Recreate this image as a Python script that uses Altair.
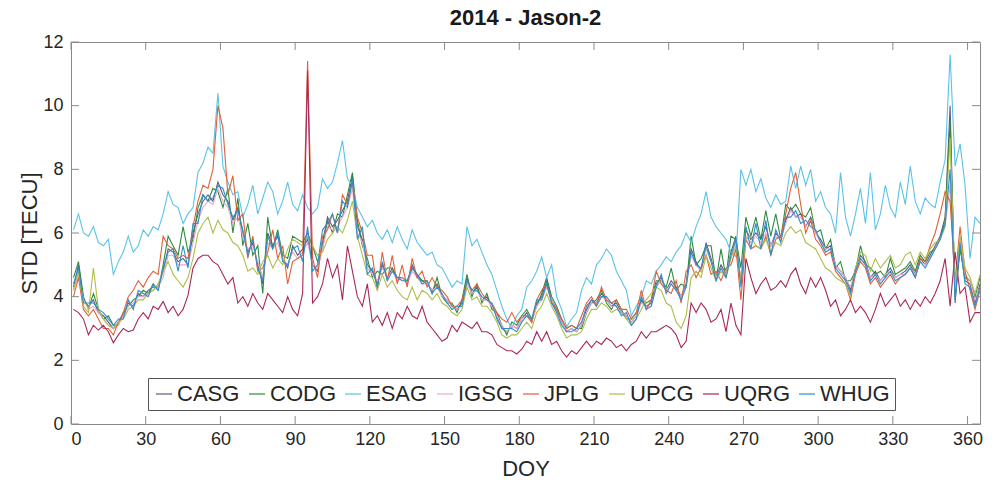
import altair as alt
import pandas as pd

doy = list(range(1, 366, 2))

series_names = ["CASG", "CODG", "ESAG", "IGSG", "JPLG", "UPCG", "UQRG", "WHUG"]
series_colors = ["#5f5a84", "#2e8b3e", "#5bc2e7", "#e8aacb", "#e0603a", "#b0bd4c", "#a8285a", "#2f8fce"]

CASG = [4.3,5.0,3.9,3.7,3.9,3.5,3.4,3.2,3.0,3.2,3.4,3.8,3.7,4.1,4.0,
        4.2,4.3,4.3,4.8,5.5,5.4,5.1,5.2,5.0,6.0,6.6,7.0,7.2,7.0,7.6,
        7.2,7.0,6.4,6.8,6.0,5.4,5.7,5.0,4.4,6.0,5.6,5.9,5.2,4.9,5.6,
        5.3,5.5,5.8,5.0,4.8,5.7,6.5,6.2,6.4,6.7,7.0,7.8,6.2,5.8,5.0,
        4.8,4.4,5.0,4.6,4.9,4.5,4.6,4.4,5.0,4.6,4.5,4.4,4.2,4.4,4.0,
        3.9,3.7,3.6,3.8,4.6,4.1,4.3,3.9,4.0,3.7,3.4,3.0,2.9,3.1,3.0,
        3.3,3.5,3.2,3.8,4.0,4.5,3.9,3.6,3.2,2.9,3.0,2.9,3.1,3.6,3.9,
        3.8,4.1,3.9,3.7,3.8,3.5,3.4,3.2,3.4,3.9,3.7,3.8,4.4,4.6,4.2,
        4.5,4.3,4.0,4.4,5.5,5.1,4.8,5.7,5.2,4.6,5.0,4.7,5.4,5.9,4.4,
        6.1,5.8,6.0,5.8,6.2,5.6,6.0,5.8,6.4,6.8,6.5,6.6,6.2,6.5,6.0,
        5.8,5.5,5.6,5.0,4.8,4.6,4.2,4.9,5.3,5.1,4.6,4.8,4.5,4.7,4.9,
        4.6,4.7,4.8,5.0,4.7,5.2,5.0,5.3,5.6,5.9,6.5,10.0,3.8,5.6,4.5,
        4.4,3.8,4.4]

CODG = [4.6,5.1,4.0,3.6,4.1,3.6,3.3,3.4,3.1,3.1,3.5,3.7,3.9,4.0,4.2,
        4.1,4.4,4.2,5.0,5.9,5.6,5.3,6.2,5.4,5.8,6.8,7.2,7.0,7.4,7.3,
        6.8,7.4,6.0,7.1,5.6,6.3,5.3,5.6,4.1,6.5,5.5,6.1,5.3,5.2,5.9,
        5.8,5.7,6.0,5.6,5.1,5.5,6.4,6.0,6.6,6.5,7.2,7.9,6.4,5.6,5.2,
        4.6,4.8,4.7,4.9,4.9,4.6,4.6,4.5,4.9,4.7,4.5,4.5,4.1,4.6,4.0,
        3.8,3.8,3.5,3.9,4.7,4.0,4.4,3.8,4.1,3.6,3.5,3.1,2.8,3.2,3.1,
        3.4,3.6,3.3,3.7,4.1,4.6,4.0,3.7,3.3,3.0,3.1,3.0,3.0,3.5,3.8,
        3.9,4.2,3.8,3.6,3.9,3.6,3.3,3.3,3.5,3.8,3.8,3.9,4.5,4.5,4.3,
        4.9,4.2,4.4,4.3,5.9,5.0,5.2,5.6,5.6,4.5,5.5,4.6,5.9,5.8,4.9,
        6.5,5.9,6.5,5.8,6.7,5.9,6.6,5.8,6.9,6.7,6.9,6.6,6.5,6.8,6.0,
        6.1,5.5,5.8,4.9,5.1,4.5,4.5,4.8,5.6,5.0,4.9,4.7,4.8,4.6,5.2,
        4.7,4.8,4.9,5.1,4.8,5.3,5.1,5.4,5.5,5.8,6.4,9.5,4.0,5.5,4.6,
        4.5,4.0,4.6]

ESAG = [6.1,6.6,6.0,5.9,6.2,5.7,5.6,5.8,4.7,5.1,5.4,5.9,5.4,5.6,6.1,
        5.9,6.2,6.1,6.6,7.3,6.9,6.8,6.3,6.6,6.8,7.9,8.2,8.7,8.5,10.4,
        8.1,7.6,7.2,7.3,6.5,6.9,7.5,6.6,7.1,7.6,7.3,6.6,7.0,7.6,6.9,
        6.7,7.2,6.8,6.6,6.8,7.7,7.4,7.6,8.2,8.9,7.7,7.5,6.8,6.5,6.2,
        6.4,6.0,5.8,6.1,5.7,6.2,5.8,5.5,6.1,5.7,5.5,5.3,5.4,5.0,4.9,
        4.6,4.3,4.5,4.4,6.2,5.6,5.8,5.4,5.0,4.7,4.2,3.7,3.3,3.0,3.4,
        3.6,4.3,4.5,4.8,5.25,4.6,5.0,4.0,3.6,3.05,3.3,3.5,4.2,4.6,4.4,
        5.0,5.2,5.5,5.3,4.8,4.5,4.2,3.4,3.7,4.0,4.5,4.4,4.8,5.0,5.25,
        5.1,5.4,5.6,6.0,5.7,6.2,6.6,7.3,6.5,6.2,6.0,5.8,5.4,5.25,8.0,
        7.5,8.0,7.3,7.7,7.1,6.8,7.2,6.9,7.0,8.1,7.4,8.1,7.5,8.0,7.0,
        7.3,6.8,6.6,6.0,7.9,6.5,5.9,6.6,7.4,6.3,7.9,6.1,6.6,7.5,6.8,
        6.5,7.6,6.9,8.1,7.0,6.6,7.1,6.9,6.8,7.6,8.3,11.6,8.1,8.8,7.5,
        5.2,6.5,6.3]

IGSG = [4.2,4.7,3.9,3.6,3.7,3.5,3.3,3.1,3.0,3.1,3.4,3.7,3.8,4.0,4.0,
        4.1,4.2,4.3,4.6,5.3,5.3,5.0,5.0,5.0,5.7,6.4,6.8,7.0,6.9,7.4,
        7.0,6.8,6.3,6.5,5.9,5.5,5.6,5.1,4.6,5.7,5.5,5.7,5.2,5.0,5.4,
        5.2,5.4,5.7,5.0,4.9,5.5,6.2,6.1,6.2,6.5,6.8,7.4,6.0,5.7,4.9,
        4.7,4.5,4.9,4.6,4.8,4.5,4.6,4.4,4.8,4.6,4.4,4.4,4.2,4.3,4.0,
        3.9,3.7,3.6,3.7,4.4,4.1,4.2,3.9,3.9,3.7,3.4,3.1,2.9,3.1,3.0,
        3.3,3.4,3.2,3.7,3.9,4.3,3.9,3.5,3.2,2.9,3.0,2.9,3.1,3.5,3.8,
        3.8,4.0,3.9,3.7,3.7,3.5,3.4,3.2,3.4,3.8,3.7,3.7,4.3,4.5,4.2,
        4.4,4.2,4.0,4.3,5.3,5.0,4.8,5.5,5.1,4.6,4.9,4.7,5.3,5.7,4.5,
        5.9,5.7,5.9,5.7,6.0,5.6,5.9,5.8,6.3,6.7,6.5,6.5,6.2,6.4,6.0,
        5.7,5.5,5.5,5.0,4.8,4.6,4.3,4.8,5.2,5.0,4.6,4.7,4.5,4.7,4.8,
        4.6,4.7,4.7,4.9,4.7,5.1,5.0,5.2,5.5,5.8,6.2,7.5,4.2,5.8,4.7,
        4.5,3.9,4.3]

JPLG = [4.0,4.6,3.6,3.4,3.6,3.3,3.0,3.0,2.8,3.2,3.5,4.0,4.2,4.5,4.3,
        4.6,4.8,4.7,5.9,5.6,5.5,5.2,5.3,5.2,6.2,7.0,7.5,7.4,8.0,10.0,
        9.3,7.2,7.8,6.4,6.6,5.2,5.9,4.8,4.9,5.4,6.1,5.2,5.6,4.4,5.1,
        5.2,5.3,11.4,5.2,4.6,5.9,6.1,6.6,6.0,7.2,6.9,7.6,6.5,6.0,5.3,
        5.3,4.2,5.4,4.5,5.3,4.4,5.0,4.3,5.2,4.6,4.8,4.3,4.6,4.3,4.2,
        4.0,3.7,3.7,3.9,4.5,4.2,4.4,4.1,3.9,3.8,3.5,3.3,3.2,3.5,3.2,
        3.4,3.4,3.2,3.9,4.2,4.4,3.8,3.6,3.3,3.0,3.1,3.0,3.4,3.8,4.0,
        3.7,4.3,3.9,3.8,3.9,3.6,3.6,3.3,3.5,4.2,3.6,3.9,4.8,4.4,4.2,
        4.1,4.5,3.8,4.8,5.0,4.6,4.9,5.3,4.7,4.8,4.5,4.9,5.0,5.5,3.9,
        5.8,5.5,5.6,5.5,5.9,5.3,5.8,5.9,6.6,7.4,7.9,6.9,6.0,6.4,5.8,
        5.6,5.3,5.4,4.8,4.6,4.4,3.9,4.7,5.1,4.9,4.4,4.6,4.3,4.5,4.7,
        4.4,4.6,4.7,4.9,4.6,5.2,5.1,5.6,6.0,6.6,7.3,7.0,4.5,6.2,4.8,
        4.2,3.6,4.2]

UPCG = [4.2,4.8,3.7,3.5,4.9,3.6,3.3,3.1,3.0,3.2,3.3,3.6,3.7,3.9,3.9,
        4.1,4.2,4.4,4.8,5.1,4.7,4.5,4.3,4.6,5.2,6.0,6.3,6.5,6.0,6.4,
        6.1,6.0,5.7,5.6,5.3,4.8,4.9,4.7,5.1,5.3,4.9,5.2,5.0,5.5,5.8,
        5.7,5.6,5.9,5.6,5.3,5.4,5.8,6.0,6.2,6.0,6.4,7.0,5.9,5.3,4.7,
        4.6,4.2,4.7,4.3,4.5,4.2,4.0,3.9,4.3,3.9,4.2,4.1,3.9,4.1,3.8,
        3.7,3.5,3.4,3.6,4.3,3.9,4.0,3.7,3.7,3.5,3.2,2.8,2.7,2.8,2.8,
        3.0,3.2,3.0,3.5,3.7,4.1,3.7,3.4,3.0,2.7,2.8,2.8,2.9,3.3,3.6,
        3.6,3.8,3.7,3.5,3.6,3.5,3.3,3.1,3.3,3.6,3.9,4.1,4.3,4.2,3.8,
        3.7,3.2,3.0,3.4,4.6,4.8,4.6,5.3,4.9,4.5,4.8,4.6,5.2,5.6,4.5,
        5.8,5.9,5.6,5.5,5.8,5.4,5.7,5.6,6.0,6.2,6.0,6.1,5.7,5.6,5.5,
        5.2,4.9,4.8,4.6,4.5,4.4,4.0,4.9,5.4,5.3,4.8,5.2,4.9,5.1,5.3,
        4.9,5.0,5.3,5.4,5.0,5.4,5.2,5.5,5.7,5.8,6.2,9.0,4.4,5.9,4.9,
        4.6,4.1,4.7]

UQRG = [3.6,3.5,3.3,2.8,3.1,2.95,3.1,2.9,2.55,2.8,3.0,2.9,2.95,3.3,3.5,
        3.3,3.7,3.6,3.85,3.5,3.7,3.4,3.6,4.05,4.9,5.2,5.3,5.3,5.1,5.0,
        4.7,4.4,4.6,3.8,4.0,3.7,4.1,3.8,3.6,4.1,3.9,3.7,3.5,4.0,3.6,
        3.4,4.1,11.1,3.8,4.0,4.4,5.2,4.6,5.0,3.9,5.6,4.8,4.0,3.7,4.4,
        3.2,3.4,3.1,3.5,3.0,3.5,3.3,3.7,3.4,3.3,3.7,3.2,3.0,2.8,2.6,
        2.7,3.1,2.9,3.2,3.1,3.0,3.2,2.9,2.9,2.8,2.5,2.4,2.3,2.3,2.2,
        2.35,2.6,2.5,2.9,2.6,2.9,2.5,2.6,2.3,2.1,2.3,2.2,2.4,2.6,2.4,
        2.6,2.5,2.7,2.6,2.4,2.5,2.3,2.5,2.6,2.9,2.7,2.9,2.9,3.0,3.1,
        3.0,2.8,2.4,2.6,3.8,3.5,3.8,3.6,3.2,3.3,3.6,2.9,3.8,3.1,2.8,
        5.2,4.6,4.1,4.4,4.6,4.2,4.3,4.5,4.3,4.7,4.9,4.4,4.1,4.6,4.3,
        4.6,4.2,3.7,3.9,3.4,3.6,3.9,3.5,3.7,3.5,3.2,3.6,4.1,3.7,3.9,
        4.1,3.7,3.9,3.6,3.9,3.7,4.0,3.8,4.1,4.5,5.2,3.7,5.4,4.1,4.3,
        3.2,3.5,3.5]

WHUG = [4.4,4.9,3.8,3.8,3.8,3.6,3.5,3.3,3.1,3.3,3.3,3.9,3.6,4.2,4.1,
        4.0,4.4,4.2,4.9,5.4,5.5,4.8,5.6,4.9,6.3,6.3,7.2,7.0,7.1,7.5,
        7.4,6.9,6.5,6.7,6.1,5.3,5.8,4.9,4.5,5.9,5.5,6.0,5.1,5.0,5.5,
        5.6,5.1,6.2,4.8,5.0,6.1,6.3,6.6,6.0,7.0,6.8,7.7,5.8,6.2,4.7,
        4.9,4.3,5.1,4.5,4.8,4.6,4.5,4.5,4.9,4.7,4.4,4.5,4.1,4.3,4.1,
        3.8,3.6,3.7,3.7,4.5,4.2,4.2,4.0,3.9,3.8,3.3,3.0,3.0,3.0,2.9,
        3.2,3.4,3.3,3.9,3.9,4.4,3.8,3.5,3.1,2.9,2.9,3.0,3.2,3.7,3.9,
        3.7,4.0,4.0,3.8,3.7,3.4,3.5,3.1,3.3,4.0,3.6,3.7,4.3,4.7,4.1,
        4.4,4.2,3.9,4.3,5.4,5.0,4.9,5.6,5.1,4.5,4.9,4.6,5.3,5.8,4.3,
        6.2,5.5,6.3,5.5,6.4,5.3,6.1,5.7,6.5,6.5,6.7,6.3,6.4,6.2,6.1,
        5.7,5.4,5.5,4.9,4.7,4.5,4.1,4.8,5.2,5.0,4.5,4.7,4.4,4.6,4.8,
        4.5,4.6,4.7,4.9,4.6,5.1,4.9,5.2,5.5,5.8,6.3,8.0,3.9,5.7,4.4,
        4.3,3.7,4.3]

x_ticks = [0, 30, 60, 90, 120, 150, 180, 210, 240, 270, 300, 330, 360]
y_ticks = [0, 2, 4, 6, 8, 10, 12]

values = [CASG, CODG, ESAG, IGSG, JPLG, UPCG, UQRG, WHUG]
rows = []
for name, vals in zip(series_names, values):
    assert len(vals) == len(doy), (name, len(vals))
    for d, v in zip(doy, vals):
        rows.append({"DOY": d, "STD": v, "series": name})
df = pd.DataFrame(rows)
xt = pd.DataFrame({"DOY": x_ticks})
yt = pd.DataFrame({"STD": y_ticks})

W, H = 909, 382
FONT = "Liberation Sans, Arial"
AX = "#8a8a8a"
TXT = "#262626"

xscale = alt.Scale(domain=[0, 365], nice=False, zero=False)
yscale = alt.Scale(domain=[0, 12], nice=False)
xaxis = alt.Axis(values=x_ticks, labelFontSize=18, titleFontSize=22,
                 labelPadding=6, titlePadding=10, format="d")
yaxis = alt.Axis(values=y_ticks, labelFontSize=18, titleFontSize=22,
                 labelPadding=8, titlePadding=1, format="d")

lines = alt.Chart(df).mark_line(strokeWidth=1.1).encode(
    x=alt.X("DOY:Q", scale=xscale, title="DOY", axis=xaxis),
    y=alt.Y("STD:Q", scale=yscale, title="STD [TECU]", axis=yaxis),
    color=alt.Color("series:N",
                    scale=alt.Scale(domain=series_names, range=series_colors),
                    sort=series_names,
                    legend=alt.Legend(title=None, orient="none", legendX=77, legendY=336,
                                      direction="horizontal", columns=8,
                                      symbolType="stroke", symbolSize=256, symbolStrokeWidth=1.2,
                                      labelFontSize=22, labelFont=FONT, labelColor=TXT,
                                      labelOffset=2, columnPadding=6, padding=5,
                                      strokeColor="#555555", fillColor="white")),
    order=alt.Order("DOY:Q"),
)

tick_b = alt.Chart(xt).mark_rule(color=AX).encode(
    x=alt.X("DOY:Q", scale=xscale, title="DOY", axis=xaxis), y=alt.value(H), y2=alt.value(H - 8))
tick_t = alt.Chart(xt).mark_rule(color=AX).encode(
    x=alt.X("DOY:Q", scale=xscale, title="DOY", axis=xaxis), y=alt.value(0), y2=alt.value(8))
tick_l = alt.Chart(yt).mark_rule(color=AX).encode(
    y=alt.Y("STD:Q", scale=yscale, title="STD [TECU]", axis=yaxis), x=alt.value(0), x2=alt.value(8))
tick_r = alt.Chart(yt).mark_rule(color=AX).encode(
    y=alt.Y("STD:Q", scale=yscale, title="STD [TECU]", axis=yaxis), x=alt.value(W), x2=alt.value(W - 8))

chart = alt.layer(lines, tick_b, tick_t, tick_l, tick_r).properties(
    width=W, height=H,
    title=alt.TitleParams("2014 - Jason-2", fontSize=22, fontWeight="bold",
                          font=FONT, color="#1a1a1a", offset=3, anchor="middle"),
    autosize="none",
    padding={"left": 71, "top": 42, "right": 22, "bottom": 62},
).configure_view(stroke=AX, strokeWidth=1).configure_axis(
    domain=False, ticks=False, grid=False, labelColor=TXT, titleColor=TXT,
    labelFont=FONT, titleFont=FONT, titleFontWeight="normal",
)

chart.save("out.html", embed_options={"renderer": "svg", "actions": False})
